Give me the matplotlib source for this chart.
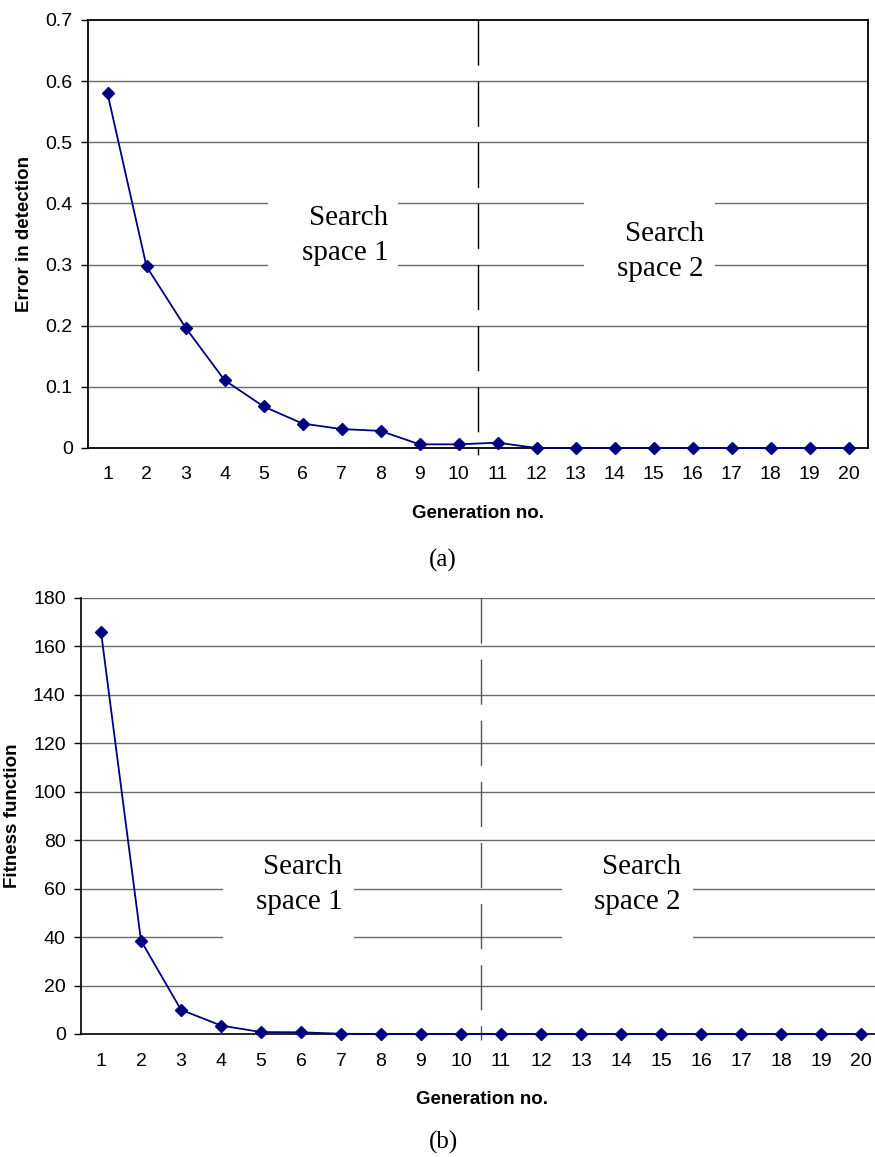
import numpy as np
import matplotlib.pyplot as plt
from matplotlib.patches import Rectangle

# datos
generation = np.arange(1, 21)
error_detection = [0.58, 0.297, 0.197, 0.111, 0.068, 0.040, 0.031, 0.028, 0.006, 0.006,
                   0.0087, 0, 0, 0, 0, 0, 0, 0, 0, 0]
fitness = [166, 38.5, 10, 3.5, 0.8, 0.7, 0.1, 0, 0, 0,
           0, 0, 0, 0, 0, 0, 0, 0, 0, 0]
error_ticks = [0, 0.1, 0.2, 0.3, 0.4, 0.5, 0.6, 0.7]
error_ticklabels = ['0', '0.1', '0.2', '0.3', '0.4', '0.5', '0.6', '0.7']
fitness_ticks = [0, 20, 40, 60, 80, 100, 120, 140, 160, 180]
split_gen = 10.5

sans = 'Liberation Sans'
serif = 'Liberation Serif'
navy = '#000080'
grid_c = '#6a6a6a'
W, H = 875, 1157

fig = plt.figure(figsize=(8.75, 11.57), dpi=100)

# ---------- (a) error en deteccion ----------
ax1 = fig.add_axes([88/W, 1-448/H, 780/W, 428/H])
ax1.set_xlim(0.5, 20.5)
ax1.set_ylim(0, 0.7)
for v in error_ticks[1:-1]:
    ax1.axhline(v, color=grid_c, lw=1, zorder=1)
ax1.plot([split_gen, split_gen], [0.7, -0.012], color='black', lw=1,
         dashes=(32.5, 11.5), zorder=2, clip_on=False)
ax1.add_patch(Rectangle((5.12, 0.27), 3.33, 0.16, facecolor='white', edgecolor='none', zorder=3))
ax1.add_patch(Rectangle((13.22, 0.25), 3.36, 0.18, facecolor='white', edgecolor='none', zorder=3))
ax1.text(8.2, 0.3475, 'Search\nspace 1', ha='right', va='center', multialignment='right',
         family=serif, fontsize=21, linespacing=1.45, zorder=4)
ax1.text(16.29, 0.322, 'Search\nspace 2', ha='right', va='center', multialignment='right',
         family=serif, fontsize=21, linespacing=1.45, zorder=4)
ax1.plot(generation, error_detection, color=navy, lw=1.3, marker='D', markersize=6.5, zorder=5, clip_on=False)
ax1.set_xticks(generation)
ax1.set_xticklabels([str(g) for g in generation], family=sans, fontsize=14)
ax1.set_yticks(error_ticks)
ax1.set_yticklabels(error_ticklabels, family=sans, fontsize=14)
ax1.tick_params(axis='x', length=0, pad=13)
ax1.tick_params(axis='y', length=5, width=1, pad=6)
for s in ax1.spines.values():
    s.set_linewidth(1.3)
    s.set_color('black')
fig.text(25/W, 1-234/H, 'Error in detection', rotation=90, ha='center', va='center',
         family=sans, fontsize=13.5, fontweight='bold')
fig.text(478/W, 1-513/H, 'Generation no.', ha='center', va='center',
         family=sans, fontsize=13.5, fontweight='bold')
fig.text(443/W, 1-560/H, '(a)', ha='center', va='center', family=serif, fontsize=18)

# ---------- (b) funcion fitness ----------
ax2 = fig.add_axes([81/W, 1-1034/H, 800/W, 436/H])
ax2.set_xlim(0.5, 20.5)
ax2.set_ylim(0, 180)
for v in fitness_ticks[1:]:
    ax2.axhline(v, color=grid_c, lw=1, zorder=1)
ax2.plot([split_gen, split_gen], [180, -2.5], color='#555555', lw=1,
         dashes=(32.5, 11.5), zorder=2, clip_on=False)
ax2.add_patch(Rectangle((4.05, 30), 3.28, 40, facecolor='white', edgecolor='none', zorder=3))
ax2.add_patch(Rectangle((12.52, 30), 3.28, 40, facecolor='white', edgecolor='none', zorder=3))
ax2.text(7.03, 61.8, 'Search\nspace 1', ha='right', va='center', multialignment='right',
         family=serif, fontsize=21, linespacing=1.45, zorder=4)
ax2.text(15.5, 61.8, 'Search\nspace 2', ha='right', va='center', multialignment='right',
         family=serif, fontsize=21, linespacing=1.45, zorder=4)
ax2.plot(generation, fitness, color=navy, lw=1.3, marker='D', markersize=6.5, zorder=5, clip_on=False)
ax2.set_xticks(generation)
ax2.set_xticklabels([str(g) for g in generation], family=sans, fontsize=14)
ax2.set_yticks(fitness_ticks)
ax2.set_yticklabels([str(t) for t in fitness_ticks], family=sans, fontsize=14)
ax2.tick_params(axis='x', length=0, pad=14)
ax2.tick_params(axis='y', length=5, width=1, pad=6)
ax2.spines['top'].set_visible(False)
ax2.spines['right'].set_visible(False)
ax2.spines['left'].set_linewidth(1.2)
ax2.spines['bottom'].set_linewidth(1.2)
fig.text(13/W, 1-816/H, 'Fitness function', rotation=90, ha='center', va='center',
         family=sans, fontsize=13.5, fontweight='bold')
fig.text(482/W, 1-1100/H, 'Generation no.', ha='center', va='center',
         family=sans, fontsize=13.5, fontweight='bold')
fig.text(443/W, 1-1142/H, '(b)', ha='center', va='center', family=serif, fontsize=18)

plt.savefig('out.png', dpi=100)
